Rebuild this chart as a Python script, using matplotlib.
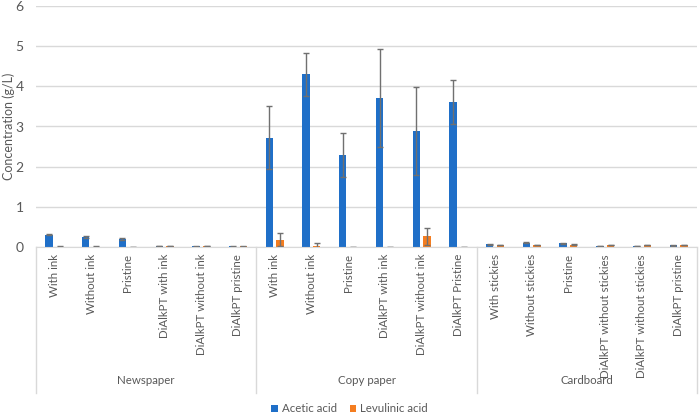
import numpy as np
import matplotlib.pyplot as plt

plt.rcParams['font.family'] = ['Lato', 'DejaVu Sans']

groups = ["Newspaper", "Copy paper", "Cardboard"]
labels = ["With ink", "Without ink", "Pristine", "DiAlkPT with ink",
          "DiAlkPT without ink", "DiAlkPT pristine",
          "With ink", "Without ink", "Pristine", "DiAlkPT with ink",
          "DiAlkPT without ink", "DiAlkPT Pristine",
          "With stickies", "Without stickies", "Pristine",
          "DiAlkPT without stickies", "DiAlkPT without stickies",
          "DiAlkPT pristine"]

acetic = [0.31, 0.25, 0.20, 0.02, 0.015, 0.015,
          2.72, 4.30, 2.30, 3.72, 2.89, 3.61,
          0.07, 0.11, 0.09, 0.03, 0.02, 0.04]
acetic_err = [0.02, 0.02, 0.02, 0.005, 0.005, 0.005,
              0.79, 0.54, 0.55, 1.22, 1.09, 0.55,
              0.01, 0.01, 0.01, 0.005, 0.005, 0.005]
levulinic = [0.01, 0.01, 0.0, 0.02, 0.02, 0.015,
             0.18, 0.03, 0.005, 0.005, 0.27, 0.005,
             0.05, 0.05, 0.06, 0.05, 0.05, 0.05]
levulinic_err = [0.005, 0.005, 0.0, 0.005, 0.005, 0.005,
                 0.16, 0.08, 0.0, 0.0, 0.21, 0.0,
                 0.01, 0.01, 0.01, 0.01, 0.01, 0.01]

blue = '#1F6FC8'
orange = '#F47D20'
grey = '#595959'

fig = plt.figure(figsize=(6.99, 4.15), dpi=100)
ax = fig.add_axes([36/699, 1 - 247/415, 661/699, 241/415])

x = np.arange(len(labels))
w = 0.2
ekw = dict(ecolor='#707070', elinewidth=1, capsize=2.5, capthick=1)
ax.bar(x - 0.145, acetic, w, yerr=acetic_err, color=blue, error_kw=ekw,
       label='Acetic acid', zorder=2)
ax.bar(x + 0.145, levulinic, w, yerr=levulinic_err, color=orange, error_kw=ekw,
       label='Levulinic acid', zorder=2)

ax.set_xlim(-0.5, len(labels) - 0.5)
ax.set_ylim(0, 6)
ax.set_yticks(range(7))
ax.yaxis.grid(True, color='#D9D9D9', linewidth=1)
ax.set_axisbelow(True)
for s in ['left', 'top', 'right']:
    ax.spines[s].set_visible(False)
ax.spines['bottom'].set_color('#D9D9D9')
ax.tick_params(axis='y', length=0, labelsize=10, labelcolor=grey, pad=9)
ax.set_xticks(x)
ax.set_xticklabels(labels, rotation=90, fontsize=8.3, color=grey)
ax.tick_params(axis='x', length=0, pad=5)
ax.set_ylabel("Concentration (g/L)", fontsize=9, color=grey)
ax.yaxis.set_label_coords(-0.032, 0.5)

# group separators and group names
tr = ax.get_xaxis_transform()
for edge in [-0.5, 5.5, 11.5, 17.5]:
    ax.plot([edge, edge], [0, -0.606], transform=tr, color='#D9D9D9',
            linewidth=1, clip_on=False)
for i, g in enumerate(groups):
    ax.text(i * 6 + 2.5, -0.556, g, transform=tr, ha='center', va='center',
            fontsize=8.3, color=grey)

fig.legend(loc='center', bbox_to_anchor=(0.5, 0.015), ncol=2, frameon=False,
           fontsize=8.3, handlelength=0.6, handleheight=0.6, handletextpad=0.35,
           columnspacing=1.1, labelcolor=grey)

fig.savefig('out.png', dpi=100)
